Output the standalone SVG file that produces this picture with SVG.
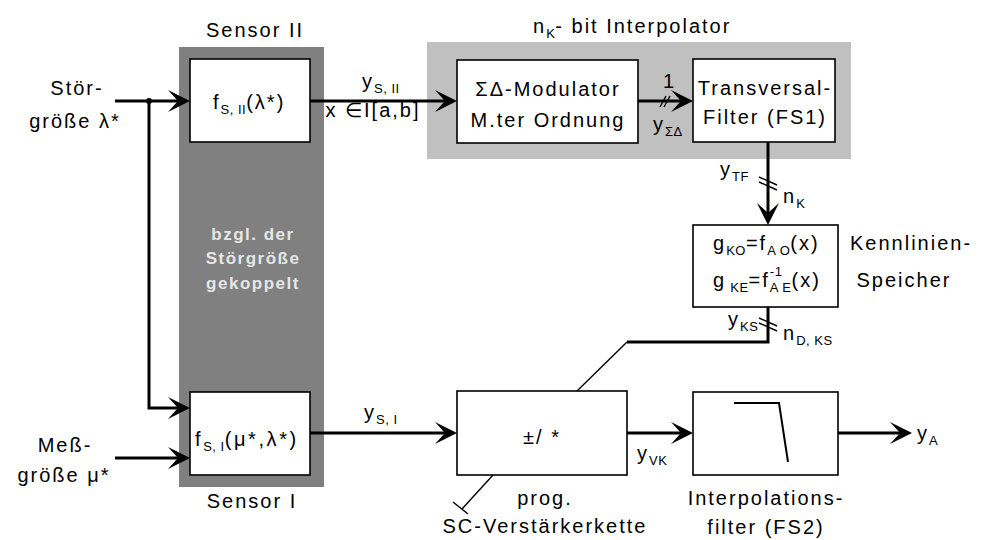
<svg xmlns="http://www.w3.org/2000/svg" width="982" height="540" viewBox="0 0 982 540">
<defs>
<style>
text{font-family:"Liberation Sans",Arial,sans-serif;font-size:20px;letter-spacing:2px;fill:#000}
.s{font-size:13px;letter-spacing:0.5px}
.box{fill:#fff;stroke:#000;stroke-width:1.6}
.w{stroke:#000;stroke-width:3;fill:none}
.thin{stroke:#000;stroke-width:1.4;fill:none}
.mid{text-anchor:middle}
.bold{font-weight:bold;font-size:17px;letter-spacing:1.5px;fill:#e6e6e6}
</style>
<marker id="ah" viewBox="-24 -12 26 24" markerWidth="26" markerHeight="24" refX="-8" refY="0" orient="auto" markerUnits="userSpaceOnUse">
<path d="M0,0 L-22,-11 L-12,0 L-22,11 Z" fill="#000"/>
</marker>
</defs>
<rect x="179" y="47" width="145" height="440" fill="#808080"/>
<rect x="427" y="42" width="424" height="117" fill="#c0c0c0"/>

<g id="sensor2">
<rect class="box" x="190" y="59" width="120" height="83"/>
<text x="213" y="109">f<tspan class="s" dy="5">S, II</tspan><tspan dy="-5">(λ*)</tspan></text>
<text class="mid" x="255" y="37">Sensor II</text>
</g>
<g id="sensor1">
<rect class="box" x="190" y="392" width="120" height="83"/>
<text x="195" y="446" style="letter-spacing:2.6px">f<tspan class="s" dy="5">S, I</tspan><tspan dy="-5">(μ*,λ*)</tspan></text>
<text class="mid" x="252" y="508">Sensor I</text>
</g>
<g id="coupling">
<text class="mid bold" x="253" y="240">bzgl. der</text>
<text class="mid bold" x="253" y="264">Störgröße</text>
<text class="mid bold" x="253" y="289">gekoppelt</text>
</g>
<g id="interpolator">
<text x="533" y="33">n<tspan class="s" dy="5">K</tspan><tspan dy="-5">- bit Interpolator</tspan></text>
</g>
<g id="modulator">
<rect class="box" x="457" y="60" width="181" height="83"/>
<text class="mid" x="548" y="96">ΣΔ-Modulator</text>
<text class="mid" x="548" y="127">M.ter Ordnung</text>
</g>
<g id="transversal">
<rect class="box" x="693" y="59" width="142" height="83"/>
<text class="mid" x="765" y="95">Transversal-</text>
<text class="mid" x="765" y="124">Filter (FS1)</text>
</g>
<g id="kennlinien">
<rect class="box" x="693" y="225" width="145" height="82"/>
<text x="713" y="250">g<tspan class="s" dy="5">KO</tspan><tspan dy="-5">=f</tspan><tspan class="s" dy="5">A O</tspan><tspan dy="-5">(x)</tspan></text>
<text x="713" y="287">g<tspan class="s" dy="5"> KE</tspan><tspan dy="-5">=f</tspan><tspan class="s" dy="-11">-1</tspan><tspan class="s" dx="-12.6" dy="16">A E</tspan><tspan dy="-5">(x)</tspan></text>
<text x="850" y="250">Kennlinien-</text>
<text class="mid" x="904" y="287">Speicher</text>
</g>
<g id="verstaerker">
<rect class="box" x="457" y="391" width="170" height="84"/>
<text class="mid" x="542" y="444">±/ *</text>
<text class="mid" x="545" y="505">prog.</text>
<text class="mid" x="545" y="533">SC-Verstärkerkette</text>
</g>
<g id="filter">
<rect class="box" x="693" y="392" width="145" height="83"/>
<path d="M734,403 H779 L788,462" fill="none" stroke="#000" stroke-width="2"/>
<text class="mid" x="766" y="505">Interpolations-</text>
<text class="mid" x="766" y="534">filter (FS2)</text>
</g>
<g id="inputs">
<text class="mid" x="77" y="95">Stör-</text>
<text class="mid" x="75" y="128">größe λ*</text>
<text class="mid" x="65" y="452">Meß-</text>
<text class="mid" x="64" y="482">größe μ*</text>
</g>

<g id="connectors">
<path class="w" d="M115,101 H182" marker-end="url(#ah)"/>
<circle cx="149" cy="101" r="3" fill="#000"/>
<path class="w" d="M149,101 V408 H182" marker-end="url(#ah)"/>
<path class="w" d="M115,458 H182" marker-end="url(#ah)"/>
<path class="w" d="M310,101 H449" marker-end="url(#ah)"/>
<path class="w" d="M638,101 H685" marker-end="url(#ah)"/>
<path class="w" d="M768,142 V217" marker-end="url(#ah)"/>
<path class="w" d="M768,307 V342 H627"/>
<path class="thin" d="M627,342 L577,391"/>
<path class="w" d="M310,433 H449" marker-end="url(#ah)"/>
<path class="w" d="M627,433 H685" marker-end="url(#ah)"/>
<path class="w" d="M838,433 H904" marker-end="url(#ah)"/>
<path class="thin" d="M493,475 L462,509 M453,502 L468,514"/>
<path class="thin" d="M660,107 L666,96 M664,107 L670,96"/>
<path class="thin" d="M759,177 L777,185 M759,182 L777,190"/>
<path class="thin" d="M759,318 L777,326 M759,323 L777,331"/>
<text x="362" y="88">y<tspan class="s" dy="5">S, II</tspan></text>
<text class="mid" x="373" y="117">x ∈I[a,b]</text>
<text x="663" y="88">1</text>
<text x="653" y="131">y<tspan class="s" dy="5">ΣΔ</tspan></text>
<text x="720" y="176">y<tspan class="s" dy="5">TF</tspan></text>
<text x="783" y="203">n<tspan class="s" dy="5">K</tspan></text>
<text x="728" y="326">y<tspan class="s" dy="5">KS</tspan></text>
<text x="783" y="340">n<tspan class="s" dy="5">D, KS</tspan></text>
<text x="364" y="419">y<tspan class="s" dy="5">S, I</tspan></text>
<text x="637" y="460">y<tspan class="s" dy="5">VK</tspan></text>
<text x="917" y="440">y<tspan class="s" dy="5">A</tspan></text>
</g>
</svg>
